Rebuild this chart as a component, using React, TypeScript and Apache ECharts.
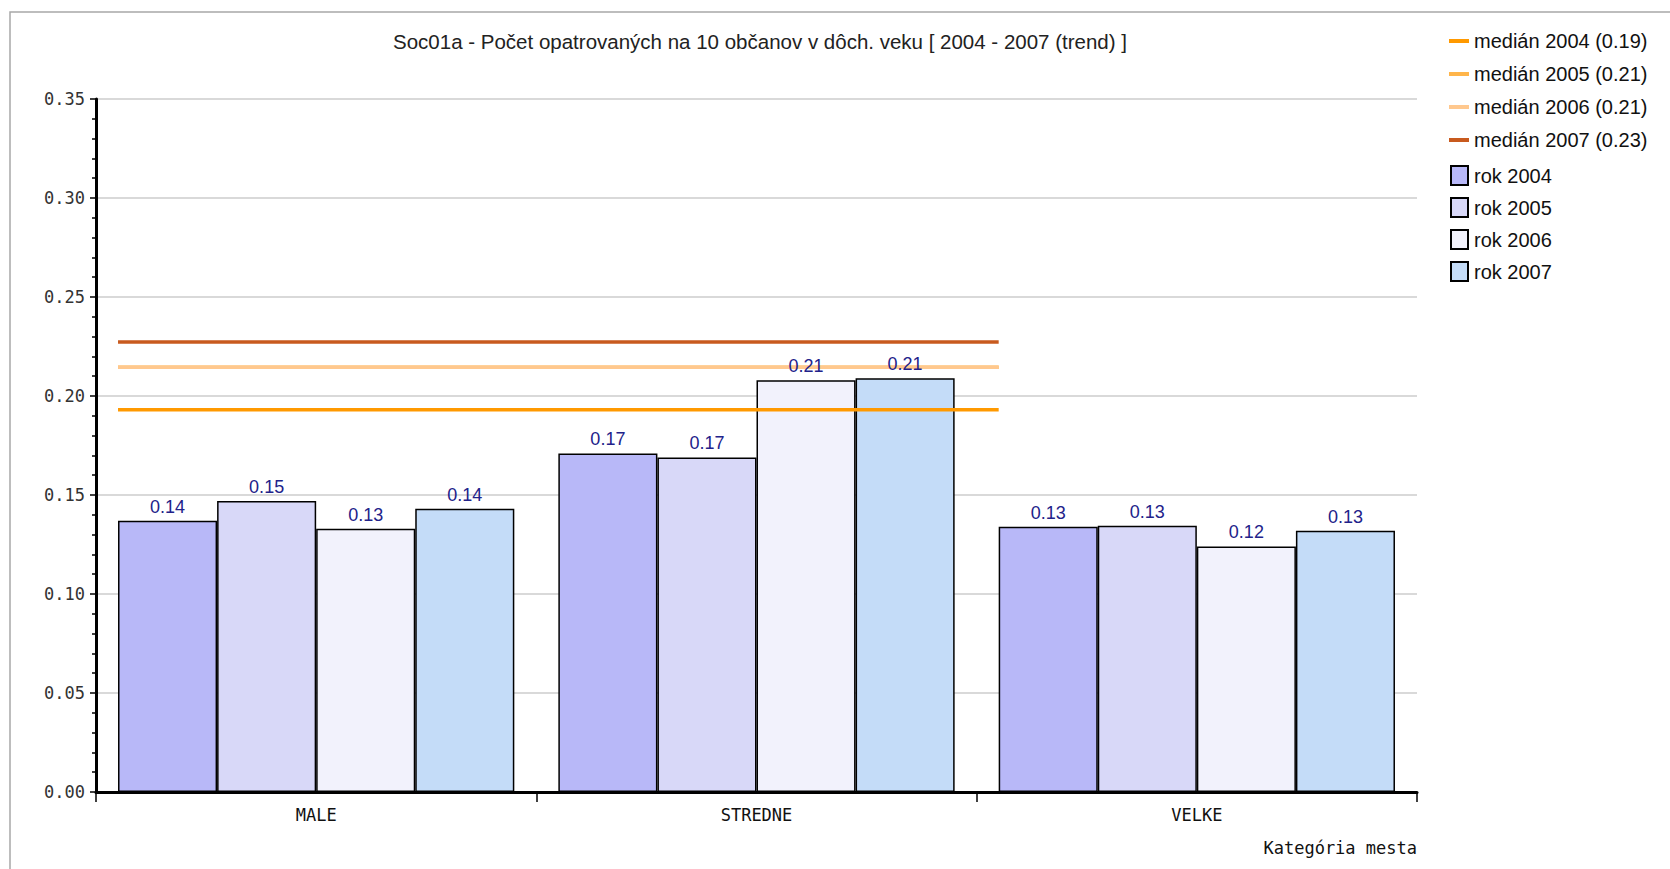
import React, { useEffect, useRef } from "react";
import * as echarts from "echarts";

const categories = ["MALE", "STREDNE", "VELKE"];
const yearNames = ["rok 2004", "rok 2005", "rok 2006", "rok 2007"];
const values2004 = [0.137, 0.171, 0.134];
const values2005 = [0.147, 0.169, 0.1345];
const values2006 = [0.133, 0.208, 0.124];
const values2007 = [0.143, 0.209, 0.132];
const medianNames = ["medián 2004 (0.19)", "medián 2005 (0.21)", "medián 2006 (0.21)", "medián 2007 (0.23)"];
const medianValues = [0.193, 0.2145, 0.2145, 0.2273];
const yTicks = [0, 0.05, 0.1, 0.15, 0.2, 0.25, 0.3, 0.35];

const barColors = ["#B8B8F8", "#D8D8F8", "#F2F2FC", "#C4DCF8"];
const medianColors = ["#FF9900", "#FFB54A", "#FFC88E", "#C85A1E"];

export default function App() {
  const ref = useRef<HTMLDivElement>(null);
  useEffect(() => {
    if (!ref.current) return;
    const chart = echarts.init(ref.current, null, { renderer: "svg" });
    const barData = [values2004, values2005, values2006, values2007];
    const mono = "'DejaVu Sans Mono', 'Liberation Mono', monospace";
    const sans = "'Liberation Sans', Arial, sans-serif";
    const barSeries = yearNames.map((name, i) => ({
      name,
      type: "bar",
      xAxisIndex: 0,
      yAxisIndex: 0,
      data: barData[i],
      barGap: "0%",
      barCategoryGap: "10%",
      itemStyle: { color: barColors[i], borderColor: "#000", borderWidth: 1.5 },
      z: 2,
    }));
    const labelSeries = yearNames.map((name, i) => ({
      name: name + " label",
      type: "bar",
      xAxisIndex: 2,
      yAxisIndex: 0,
      data: barData[i],
      barGap: "0%",
      barCategoryGap: "10%",
      silent: true,
      itemStyle: { color: "rgba(0,0,0,0)", borderWidth: 0 },
      label: {
        show: true,
        position: "top",
        distance: 5,
        formatter: (p: any) => Number(p.value).toFixed(2),
        fontFamily: sans,
        fontSize: 18,
        color: "#22228A",
      },
      z: 6,
    }));
    const lineSeries = medianNames.map((name, i) => ({
      name,
      type: "line",
      xAxisIndex: 1,
      yAxisIndex: 0,
      data: [
        [0.05, medianValues[i]],
        [2.05, medianValues[i]],
      ],
      symbol: "none",
      showSymbol: false,
      lineStyle: { color: medianColors[i], width: 3.5 },
      itemStyle: { color: medianColors[i] },
      z: 3,
    }));
    chart.setOption({
      animation: false,
      backgroundColor: "#FFFFFF",
      title: {
        text: "Soc01a - Počet opatrovaných na 10 občanov v dôch. veku [ 2004 - 2007 (trend) ]",
        left: 755,
        top: 26,
        textAlign: "center",
        textStyle: { fontFamily: sans, fontSize: 20.5, fontWeight: "normal", color: "#222" },
      },
      graphic: [
        {
          type: "rect",
          shape: { x: 10, y: 12, width: 1700, height: 900 },
          style: { fill: "none", stroke: "#A8A8A8", lineWidth: 1.5 },
          silent: true,
        },
      ],
      legend: [
        {
          data: medianNames.map((n) => ({ name: n, icon: "rect" })),
          orient: "vertical",
          left: 1444,
          top: 26,
          itemWidth: 20,
          itemHeight: 4,
          itemGap: 13,
          textStyle: { fontFamily: sans, fontSize: 20, color: "#111", padding: [0, 0, 0, 0] },
        },
        {
          data: yearNames.map((n) => ({ name: n, icon: "rect" })),
          orient: "vertical",
          left: 1445,
          top: 160,
          itemWidth: 17,
          itemHeight: 19,
          itemGap: 11,
          textStyle: { fontFamily: sans, fontSize: 20, color: "#111", padding: [0, 0, 0, 1] },
        },
      ],
      grid: { left: 96, right: 253, top: 99, bottom: 77, containLabel: false },
      xAxis: [
        {
          type: "category",
          data: categories,
          axisLine: { show: true, lineStyle: { color: "#000", width: 3 } },
          axisTick: { show: true, length: 10, lineStyle: { color: "#000", width: 1.5 } },
          axisLabel: { fontFamily: mono, fontSize: 17, color: "#111", margin: 14 },
          name: "Kategória mesta",
          nameLocation: "end",
          nameGap: 0,
          nameTextStyle: {
            fontFamily: mono,
            fontSize: 17,
            color: "#111",
            align: "right",
            verticalAlign: "top",
            padding: [47, 0, 0, 0],
          },
          splitLine: { show: false },
        },
        { type: "value", min: 0, max: 3, show: false },
        { type: "category", data: categories, show: false },
      ],
      yAxis: {
        type: "value",
        min: yTicks[0],
        max: yTicks[yTicks.length - 1],
        interval: 0.05,
        axisLine: { show: true, lineStyle: { color: "#000", width: 3 } },
        axisTick: { show: true, length: 6, lineStyle: { color: "#000", width: 1.5 } },
        minorTick: { show: true, splitNumber: 5, length: 4, lineStyle: { color: "#000", width: 1.5 } },
        axisLabel: {
          formatter: (v: number) => v.toFixed(2),
          fontFamily: mono,
          fontSize: 17,
          color: "#333",
          margin: 11,
        },
        splitLine: { show: true, lineStyle: { color: "#CCCCCC", width: 1.5 } },
      },
      series: [...barSeries, ...lineSeries, ...labelSeries],
    });
    return () => chart.dispose();
  }, []);
  return (
    <div
      ref={ref}
      style={{ position: "fixed", left: 0, top: 0, width: 1670, height: 869 }}
    />
  );
}
